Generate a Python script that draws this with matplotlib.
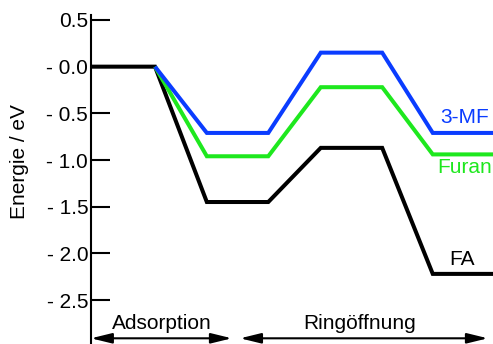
import matplotlib
matplotlib.use("Agg")
import matplotlib.pyplot as plt

plt.rcParams["font.family"] = ["Liberation Sans", "DejaVu Sans"]

# Energy of each state (eV): gas phase, adsorbed, transition state, ring opened
energy_fa = [0.0, -1.45, -0.87, -2.22]
energy_furan = [0.0, -0.96, -0.22, -0.94]
energy_3mf = [0.0, -0.71, 0.15, -0.71]

y_ticks = [0.5, 0.0, -0.5, -1.0, -1.5, -2.0, -2.5]
y_tick_labels = ["0.5", "- 0.0", "- 0.5", "- 1.0", "- 1.5", "- 2.0", "- 2.5"]

# horizontal extent (start, end) of each state plateau along the reaction coordinate
plateaus = [(0.0, 1.0), (1.81, 2.77), (3.59, 4.55), (5.34, 6.30)]


def profile(energies, skip_gas=False):
    xs, ys = [], []
    for (x0, x1), e in zip(plateaus, energies):
        xs += [x0, x1]
        ys += [e, e]
    if skip_gas:
        # line starts where the gas-phase plateau ends
        return xs[1:], ys[1:]
    return xs, ys


fig = plt.figure(figsize=(4.93, 3.44), dpi=100)
ax = fig.add_axes([91 / 493, 0, 402 / 493, 1])

colors = {"FA": "black", "Furan": "#1ee81e", "3-MF": "#0a3cff"}
lw = 2.9
for name, energies in [("FA", energy_fa), ("Furan", energy_furan), ("3-MF", energy_3mf)]:
    xs, ys = profile(energies, skip_gas=(name != "FA"))
    ax.plot(xs, ys, color=colors[name], lw=lw, solid_joinstyle="miter", solid_capstyle="butt")

fs = 15
ax.text(5.84, -0.54, "3-MF", color=colors["3-MF"], fontsize=fs, ha="center", va="center")
ax.text(5.84, -1.085, "Furan", color=colors["Furan"], fontsize=fs, ha="center", va="center")
ax.text(5.80, -2.07, "FA", color=colors["FA"], fontsize=fs, ha="center", va="center")

# reaction-step arrows below the profile
arrow_y = -2.91
arrowprops = dict(arrowstyle="<|-|>,head_length=0.9,head_width=0.22", color="black",
                  lw=1.5, mutation_scale=14, shrinkA=0, shrinkB=0)
ax.annotate("", xy=(0.0, arrow_y), xytext=(2.2, arrow_y), arrowprops=arrowprops)
ax.annotate("", xy=(2.33, arrow_y), xytext=(6.2, arrow_y), arrowprops=arrowprops)
ax.text(1.11, -2.75, "Adsorption", fontsize=fs, ha="center", va="center")
ax.text(4.2, -2.75, "Ringöffnung", fontsize=fs, ha="center", va="center")

ax.set_xlim(0, 402 / 64)
ax.set_ylim(-2.971, 0.714)
ax.set_xticks([])
ax.set_yticks(y_ticks)
ax.set_yticklabels(y_tick_labels, fontsize=fs)
ax.tick_params(axis="y", direction="in", length=14, width=1.5, pad=2)
for side in ["top", "right", "bottom"]:
    ax.spines[side].set_visible(False)
ax.spines["left"].set_linewidth(1.5)
ax.spines["left"].set_bounds(-2.971, 0.554)
ax.patch.set_visible(False)

fig.text(20 / 493, 1 - 162 / 344, "Energie / eV", rotation=90, fontsize=fs,
         ha="center", va="center")

fig.savefig("out.png", dpi=100)
